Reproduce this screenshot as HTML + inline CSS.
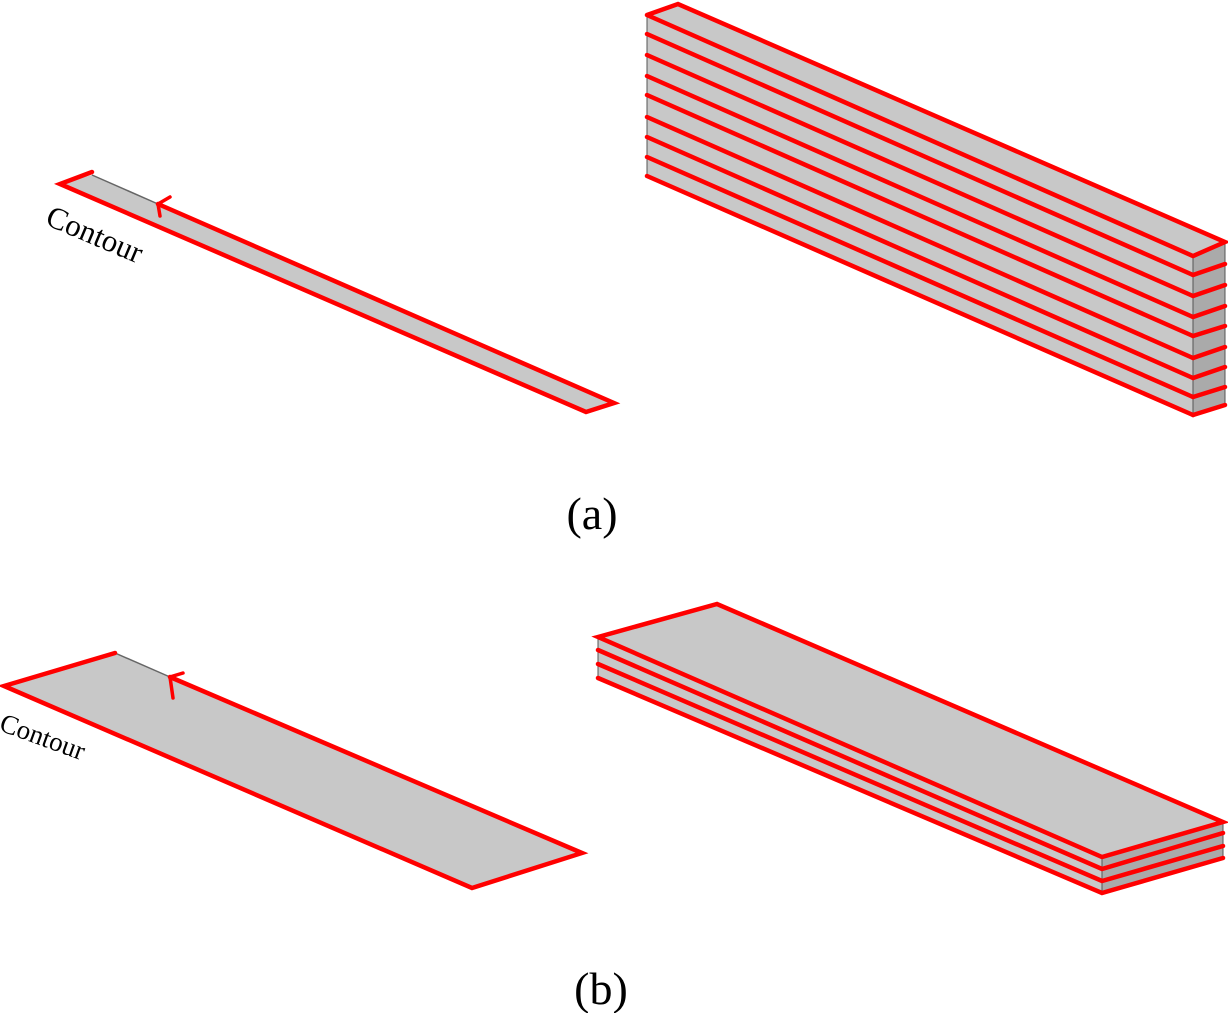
<!DOCTYPE html>
<html><head><style>
html,body{margin:0;padding:0;background:#fff;}
svg{display:block;}
</style></head><body>
<svg width="1228" height="1013" viewBox="0 0 1228 1013" xmlns="http://www.w3.org/2000/svg">
<polygon points="647,15 678,4 1225,242 1193,256" fill="#c8c8c8"/>
<polygon points="647,15 1193,256 1193,415 647,176" fill="#c8c8c8" stroke="#555" stroke-width="1"/>
<polygon points="1193,256 1225,242 1225,405 1193,415" fill="#aaaaaa" stroke="#555" stroke-width="1"/>
<g stroke="red" stroke-width="4.5" fill="none" stroke-linecap="round">
<polyline points="647,15 678,4 1225,242 1193,256 647,15"/>
<line x1="647" y1="34" x2="1193" y2="275"/>
<line x1="647" y1="55" x2="1193" y2="296"/>
<line x1="647" y1="76" x2="1193" y2="317"/>
<line x1="647" y1="95" x2="1193" y2="336"/>
<line x1="647" y1="117" x2="1193" y2="358"/>
<line x1="647" y1="137" x2="1193" y2="378"/>
<line x1="647" y1="157" x2="1193" y2="397"/>
<line x1="647" y1="176" x2="1193" y2="415"/>
<line x1="1193" y1="275" x2="1225" y2="264"/>
<line x1="1193" y1="296" x2="1225" y2="285"/>
<line x1="1193" y1="317" x2="1225" y2="306"/>
<line x1="1193" y1="336" x2="1225" y2="326"/>
<line x1="1193" y1="358" x2="1225" y2="347"/>
<line x1="1193" y1="378" x2="1225" y2="367"/>
<line x1="1193" y1="397" x2="1225" y2="387"/>
<line x1="1193" y1="415" x2="1225" y2="405"/>
</g>
<polygon points="60,184 92,175 614,403 586,412" fill="#c8c8c8"/>
<line x1="92" y1="175" x2="158" y2="204" stroke="#666" stroke-width="1.5"/>
<g stroke="red" stroke-width="4.5" fill="none" stroke-linecap="round">
<polyline points="92,172 60,184 586,412 614,403 158,204"/>
<polyline points="170,197 158,204 160,216" stroke-width="3.5"/>
</g>
<text x="0" y="0" transform="translate(44,224) rotate(23)" font-family="Liberation Serif, serif" font-size="31">Contour</text>
<polygon points="4,686 115,653 582,853 472,888" fill="#c8c8c8"/>
<line x1="115" y1="653" x2="170" y2="677" stroke="#666" stroke-width="1.5"/>
<g stroke="red" stroke-width="4.5" fill="none" stroke-linecap="round">
<polyline points="115,653 4,686 472,888 582,853 170,677"/>
<polyline points="183,673 170,677 173,698" stroke-width="3.5"/>
</g>
<text x="0" y="0" transform="translate(-2,730) rotate(20)" font-family="Liberation Serif, serif" font-size="27">Contour</text>
<polygon points="598,637 717,604 1223,822 1102,857" fill="#c8c8c8"/>
<polygon points="598,637 1102,857 1102,893 598,678" fill="#c8c8c8" stroke="#555" stroke-width="1"/>
<polygon points="1102,857 1223,822 1223,858 1102,893" fill="#aaaaaa" stroke="#555" stroke-width="1"/>
<g stroke="red" stroke-width="4.5" fill="none" stroke-linecap="round">
<polygon points="598,637 717,604 1223,822 1102,857"/>
<polyline points="598,650 1102,869 1223,833"/>
<polyline points="598,664 1102,881 1223,846"/>
<polyline points="598,678 1102,893 1223,858"/>
</g>
<text x="592" y="529" text-anchor="middle" font-family="Liberation Serif, serif" font-size="46">(a)</text>
<text x="601" y="1004" text-anchor="middle" font-family="Liberation Serif, serif" font-size="46">(b)</text>
</svg>
</body></html>
